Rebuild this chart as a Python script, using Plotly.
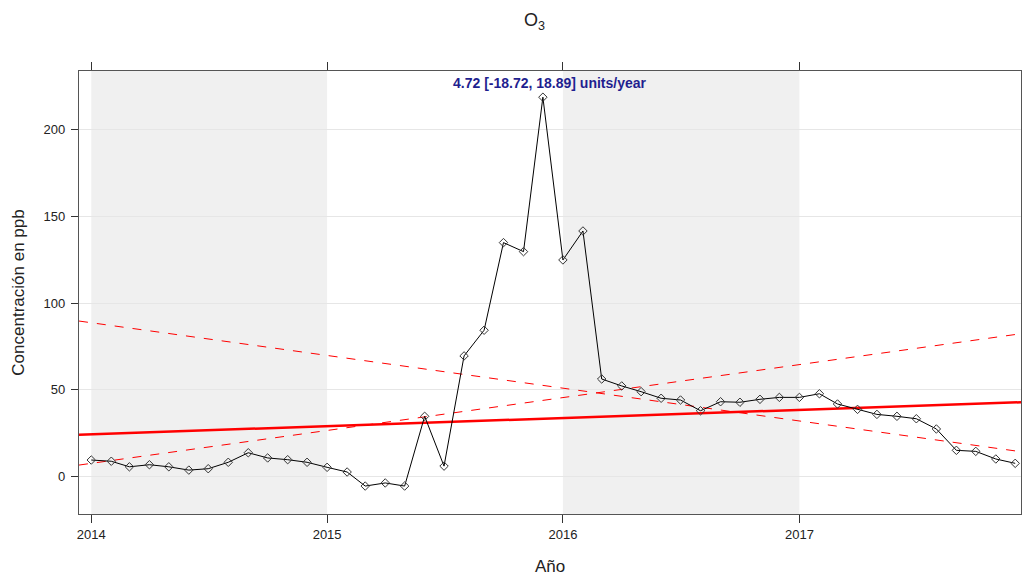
import pandas as pd
import plotly.graph_objects as go

# ---- data ----
months = pd.date_range("2014-01-01", "2017-12-01", freq="MS")
o3_values = [
    9.5, 8.8, 5.6, 6.8, 5.6, 3.7, 4.5, 8.2, 13.7, 10.7, 9.7, 8.2,          # 2014
    5.3, 2.6, -5.5, -3.7, -5.5, 34.7, 6.0, 69.5, 84.3, 134.8, 129.6, 218.6,  # 2015
    124.8, 141.5, 56.2, 52.2, 48.9, 45.1, 44.1, 37.9, 43.1, 42.8, 44.5, 45.6,  # 2016
    45.6, 47.7, 41.8, 38.7, 35.8, 34.7, 33.3, 27.4, 15.1, 14.5, 10.1, 7.6,   # 2017
]
trend_dates = ["2013-12-13", "2017-12-10"]
trend_mid = [24.1, 42.8]
trend_upper = [6.6, 82.3]
trend_lower = [89.6, 14.3]
shade_years = [("2014-01-01", "2015-01-01"), ("2016-01-01", "2017-01-01")]
y_ticks = [0, 50, 100, 150, 200]
x_range = ["2013-12-13", "2017-12-10"]
y_range = [-21.6, 233.7]
trend_label = "4.72 [-18.72, 18.89] units/year"

FONT = "Liberation Sans, Arial, sans-serif"

fig = go.Figure()

for x0, x1 in shade_years:
    fig.add_shape(type="rect", xref="x", yref="paper", x0=x0, x1=x1, y0=0, y1=1,
                  fillcolor="#F0F0F0", line_width=0, layer="below")

fig.add_trace(go.Scatter(x=trend_dates, y=trend_upper, mode="lines",
                         line=dict(color="#FF0000", width=1, dash="dash"),
                         hoverinfo="skip", showlegend=False))
fig.add_trace(go.Scatter(x=trend_dates, y=trend_lower, mode="lines",
                         line=dict(color="#FF0000", width=1, dash="dash"),
                         hoverinfo="skip", showlegend=False))
fig.add_trace(go.Scatter(x=trend_dates, y=trend_mid, mode="lines",
                         line=dict(color="#FF0000", width=2.5),
                         hoverinfo="skip", showlegend=False))
fig.add_trace(go.Scatter(x=months, y=o3_values, mode="lines+markers",
                         line=dict(color="black", width=1),
                         marker=dict(symbol="diamond-open", size=6.5, color="#333333",
                                     line=dict(width=1)),
                         showlegend=False))
# invisible trace to create top ticks
fig.add_trace(go.Scatter(x=months[:1], y=o3_values[:1], xaxis="x2", mode="markers",
                         marker=dict(opacity=0), hoverinfo="skip", showlegend=False))

fig.update_layout(
    width=1022, height=577,
    margin=dict(l=79, r=1, t=71, b=63),
    paper_bgcolor="white", plot_bgcolor="white",
    font=dict(family=FONT, color="#222222", size=13),
    title=dict(text="O<sub>3</sub>", x=0.523, xanchor="center", y=1 - 20 / 577,
               yanchor="middle", font=dict(family=FONT, size=18, color="#222222")),
    xaxis=dict(
        type="date", range=x_range, dtick="M12", tick0="2014-01-01", tickformat="%Y",
        showgrid=False, zeroline=False, automargin=False,
        showline=True, linecolor="#555555", linewidth=1.3, mirror=True,
        ticks="outside", ticklen=8, tickcolor="#333333",
        tickfont=dict(size=13, color="#222222"),
        title=dict(text="Año", font=dict(size=17, color="#222222"), standoff=19),
    ),
    xaxis2=dict(
        type="date", range=x_range, dtick="M12", tick0="2014-01-01", overlaying="x",
        side="top", showticklabels=False, showgrid=False, zeroline=False,
        automargin=False,
        ticks="outside", ticklen=8, tickcolor="#333333", showline=False,
    ),
    yaxis=dict(
        range=y_range, tickvals=y_ticks, showgrid=True, gridcolor="#E6E6E6",
        gridwidth=1, zeroline=False, automargin=False,
        showline=True, linecolor="#555555", linewidth=1.3, mirror=True,
        ticks="outside", ticklen=7, tickcolor="#333333", ticklabelstandoff=3,
        tickfont=dict(size=13, color="#222222"),
        title=dict(text="Concentración en ppb", font=dict(size=17, color="#222222"),
                   standoff=14),
    ),
)

fig.add_annotation(text="<b>" + trend_label + "</b>", xref="paper", yref="paper",
                   x=0.5, y=1 - 12 / 443, xanchor="center", yanchor="middle",
                   showarrow=False, font=dict(family=FONT, size=14, color="#1f1f8f"))

fig.write_html("out.html", config={"displayModeBar": False},
               post_script="document.body.style.margin='0px';document.body.style.padding='0px';")
